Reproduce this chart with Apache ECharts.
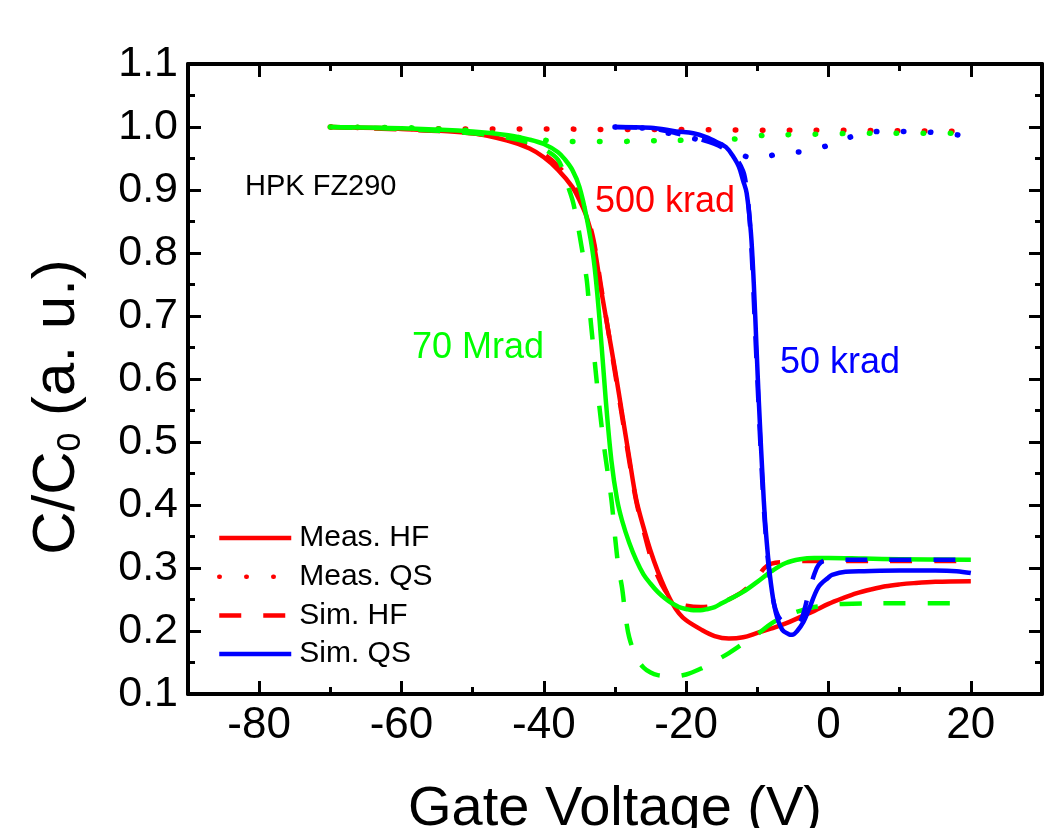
<!DOCTYPE html>
<html><head><meta charset="utf-8">
<script src="https://cdn.jsdelivr.net/npm/echarts@6/dist/echarts.min.js"></script>
<style>html,body{margin:0;padding:0;background:#fff}#c{width:1044px;height:828px}</style>
</head><body><div id="c"></div>
<script>
// ---- tick labels ----
const xMajorTicks = [-80, -60, -40, -20, 0, 20];
const legendNames = ['Meas. HF', 'Meas. QS', 'Sim. HF', 'Sim. QS'];

// ---- 500 krad (red) ----
const measHF500_V = [-70,-60,-50,-45,-42,-40,-38,-36,-35,-34,-33,-32,-31,-30,-29,-28,-27,-26,-25,-24,-23,-22,-21,-20,-18,-16,-14,-12,-10,-8,-6,-4,-2,0,2,4,6,8,10,12,15,20];
const measHF500_C = [1.0,0.997,0.99,0.978,0.966,0.952,0.932,0.905,0.884,0.858,0.815,0.745,0.68,0.615,0.545,0.475,0.408,0.365,0.327,0.295,0.268,0.245,0.228,0.217,0.203,0.192,0.188,0.19,0.197,0.204,0.212,0.222,0.232,0.243,0.252,0.26,0.266,0.271,0.274,0.276,0.278,0.279];
const simHF500_V = [-70,-60,-50,-45,-42,-40,-38,-36,-35,-34,-33,-32,-31,-30,-29,-28,-27,-26,-25,-24,-23,-22,-21,-20,-18,-16,-14,-12,-10,-9,-8,-6,-4,0,10,20];
const simHF500_C = [1.0,0.996,0.99,0.98,0.97,0.957,0.938,0.91,0.89,0.862,0.82,0.75,0.68,0.61,0.54,0.47,0.405,0.36,0.318,0.287,0.265,0.252,0.244,0.24,0.238,0.241,0.25,0.263,0.285,0.3,0.307,0.31,0.311,0.311,0.311,0.311];
const measQS500_V = [-70,-60,-50,-40,-30,-20,-10,0,10,20];
const measQS500_C = [1.0,0.998,0.997,0.997,0.996,0.996,0.995,0.995,0.994,0.993];

// ---- 70 Mrad (green) ----
const measHF70M_V = [-70,-60,-50,-45,-42,-40,-38,-37,-36,-35,-34,-33,-32.2,-31.3,-30.5,-29.7,-29,-28,-27,-26,-25,-24,-23,-22,-21,-20,-19,-18,-17,-16,-15,-14,-12,-10,-8,-6,-4,-2,0,5,10,20];
const measHF70M_C = [1.0,0.998,0.993,0.987,0.98,0.973,0.96,0.948,0.932,0.905,0.857,0.79,0.698,0.567,0.47,0.408,0.375,0.34,0.312,0.29,0.275,0.262,0.252,0.244,0.238,0.235,0.233,0.233,0.235,0.238,0.244,0.25,0.262,0.278,0.295,0.308,0.314,0.316,0.316,0.315,0.314,0.313];
const simHF70M_V = [-70,-60,-50,-45,-42,-40,-38,-37,-36,-35.5,-35,-34,-33.7,-33,-32.3,-31.5,-30.5,-30,-29.5,-29,-28.5,-28,-27,-26,-25,-24,-22,-20,-18,-16,-14,-12,-10,-8,-6,-4,-2,0,2,10,20];
const simHF70M_C = [1.0,0.997,0.99,0.983,0.975,0.965,0.948,0.918,0.885,0.86,0.83,0.76,0.725,0.645,0.567,0.49,0.408,0.35,0.3,0.268,0.222,0.19,0.158,0.142,0.134,0.13,0.128,0.131,0.14,0.152,0.165,0.18,0.195,0.212,0.224,0.232,0.238,0.241,0.243,0.244,0.244];
const measQS70M_V = [-70,-60,-55,-50,-47,-44,-40,-35,-30,-25,-20,-15,-12,-10,-5,0,5,10,15,20];
const measQS70M_C = [1.0,0.999,0.997,0.994,0.99,0.984,0.979,0.977,0.977,0.978,0.979,0.98,0.982,0.986,0.988,0.989,0.99,0.99,0.99,0.99];

// ---- 50 krad (blue) ----
const simQS50_V = [-30,-25,-21.4,-19,-17.2,-15.5,-14.4,-13.5,-12.6,-12,-11.5,-10.9,-10.5,-10.1,-9.8,-9.1,-8.7,-8.1,-7.4,-6.5,-5.6,-5.1,-4.4,-3.5,-2.8,-1.4,0,0.5,2.4,5,10,15,18,20];
const simQS50_C = [1.0,0.999,0.993,0.99,0.984,0.975,0.968,0.955,0.937,0.915,0.895,0.832,0.752,0.646,0.567,0.408,0.344,0.276,0.229,0.202,0.195,0.194,0.2,0.215,0.233,0.27,0.285,0.289,0.294,0.295,0.296,0.296,0.295,0.292];
const simHF50_V = [-30,-25,-21.4,-17.8,-15,-13,-12,-11.6,-11.2,-10.8,-10.4,-10,-9.5,-9,-8.4,-7.8,-7,-6,-5,-4.2,-3.6,-2.8,-2,-1.4,-0.5,1,10,20];
const simHF50_C = [1.0,0.998,0.99,0.98,0.968,0.95,0.93,0.91,0.87,0.8,0.7,0.6,0.48,0.38,0.3,0.25,0.222,0.212,0.21,0.212,0.225,0.26,0.29,0.305,0.312,0.313,0.313,0.313];
const measQS50_V = [-30,-25,-21.4,-17.8,-14,-12,-10.2,-6.5,-2.8,1,4.7,8,12,16,20];
const measQS50_C = [1.0,0.997,0.987,0.979,0.968,0.955,0.95,0.959,0.962,0.975,0.99,0.993,0.993,0.99,0.985];

const FONT = 'Liberation Sans, Arial, sans-serif';
const RED = '#ff0000', GREEN = '#00ff00', BLUE = '#0000ff';
const zip = (a, b) => a.map((v, i) => [v, b[i]]);

const SOLID = { type: 'solid', width: 4.5 };
const DASH = { type: [22, 22], width: 4.5 };
const DOT = { type: [0.5, 26.5], width: 5.5, cap: 'round' };

function line(name, V, C, color, style) {
  return {
    name, type: 'line', data: zip(V, C), symbol: 'none', showSymbol: false,
    smooth: 0.35, color,
    lineStyle: Object.assign({ color, join: 'round' }, style), animation: false, z: 3
  };
}

const chart = echarts.init(document.getElementById('c'));
const xBase = { type: 'value', min: -90, max: 30, interval: 10, gridIndex: 0, splitLine: { show: false } };
const axisLineStyle = { show: true, onZero: false, lineStyle: { color: '#000', width: 4 } };

chart.setOption({
  animation: false,
  backgroundColor: '#fff',
  grid: { left: 188, right: 2, top: 64, bottom: 134, containLabel: false, outerBoundsMode: 'none' },
  xAxis: [
    Object.assign({}, xBase, {
      position: 'bottom',
      axisLine: axisLineStyle,
      axisTick: { inside: true, length: 7, lineStyle: { color: '#000', width: 3 } },
      axisLabel: { customValues: xMajorTicks, fontSize: 44, fontFamily: FONT, color: '#000', margin: 10 },
      name: 'Gate Voltage (V)', nameLocation: 'middle', nameGap: 88,
      nameTextStyle: { fontSize: 56, fontFamily: FONT, color: '#000' }
    }),
    Object.assign({}, xBase, {
      position: 'bottom', axisLine: { show: false },
      axisTick: { inside: true, length: 13, customValues: xMajorTicks, lineStyle: { color: '#000', width: 3 } },
      axisLabel: { show: false }
    }),
    Object.assign({}, xBase, {
      position: 'top', axisLine: axisLineStyle,
      axisTick: { inside: true, length: 7, lineStyle: { color: '#000', width: 3 } },
      axisLabel: { show: false }
    }),
    Object.assign({}, xBase, {
      position: 'top', axisLine: { show: false },
      axisTick: { inside: true, length: 13, customValues: xMajorTicks, lineStyle: { color: '#000', width: 3 } },
      axisLabel: { show: false }
    })
  ],
  yAxis: [
    {
      type: 'value', min: 0.1, max: 1.1, interval: 0.1, position: 'left',
      axisLine: axisLineStyle,
      axisTick: { inside: true, length: 13, lineStyle: { color: '#000', width: 3 } },
      minorTick: { show: true, splitNumber: 2, length: 7, lineStyle: { color: '#000', width: 3 } },
      splitLine: { show: false }, minorSplitLine: { show: false },
      axisLabel: { fontSize: 43, fontFamily: FONT, color: '#000', margin: 10, formatter: v => v.toFixed(1) }
    },
    {
      type: 'value', min: 0.1, max: 1.1, interval: 0.1, position: 'right',
      axisLine: axisLineStyle,
      axisTick: { inside: true, length: 13, lineStyle: { color: '#000', width: 3 } },
      minorTick: { show: true, splitNumber: 2, length: 7, lineStyle: { color: '#000', width: 3 } },
      splitLine: { show: false }, minorSplitLine: { show: false },
      axisLabel: { show: false }
    }
  ],
  legend: {
    data: legendNames, orient: 'vertical', left: 217, top: 523, padding: 0,
    itemWidth: 72, itemHeight: 14, itemGap: 8.7,
    textStyle: { fontSize: 30, fontFamily: FONT, color: '#000', lineHeight: 30, padding: [0, 0, 0, 3] },
    lineStyle: { width: 4.5 }, itemStyle: { opacity: 0 },
    selectedMode: false
  },
  series: [
    line('Meas. QS', measQS500_V, measQS500_C, RED, DOT),
    line('Meas. QS 70 Mrad', measQS70M_V, measQS70M_C, GREEN, DOT),
    line('Meas. QS 50 krad', measQS50_V, measQS50_C, BLUE, DOT),
    line('Meas. HF', measHF500_V, measHF500_C, RED, SOLID),
    line('Sim. HF', simHF500_V, simHF500_C, RED, DASH),
    line('Sim. HF 70 Mrad', simHF70M_V, simHF70M_C, GREEN, DASH),
    line('Meas. HF 70 Mrad', measHF70M_V, measHF70M_C, GREEN, SOLID),
    line('Sim. QS', simQS50_V, simQS50_C, BLUE, SOLID),
    line('Sim. HF 50 krad', simHF50_V, simHF50_C, BLUE, DASH)
  ],
  graphic: [
    { type: 'text', x: 57, y: 407, rotation: Math.PI / 2, z: 10,
      style: {
        text: '{a|C/C}{b|0}{a| (a. u.)}', align: 'center', verticalAlign: 'middle',
        rich: {
          a: { fontSize: 60, fontFamily: FONT, fill: '#000', color: '#000', lineHeight: 62 },
          b: { fontSize: 34, fontFamily: FONT, fill: '#000', color: '#000', lineHeight: 36, verticalAlign: 'bottom' }
        }
      } },
    { type: 'text', x: 245, y: 187, z: 10, style: { text: 'HPK FZ290', fontSize: 29, fontFamily: FONT, fill: '#000', verticalAlign: 'middle' } },
    { type: 'text', x: 595, y: 202, z: 10, style: { text: '500 krad', fontSize: 36, fontFamily: FONT, fill: RED, verticalAlign: 'middle' } },
    { type: 'text', x: 412, y: 348, z: 10, style: { text: '70 Mrad', fontSize: 36, fontFamily: FONT, fill: GREEN, verticalAlign: 'middle' } },
    { type: 'text', x: 780, y: 363, z: 10, style: { text: '50 krad', fontSize: 36, fontFamily: FONT, fill: BLUE, verticalAlign: 'middle' } }
  ]
});
</script>
</body></html>
